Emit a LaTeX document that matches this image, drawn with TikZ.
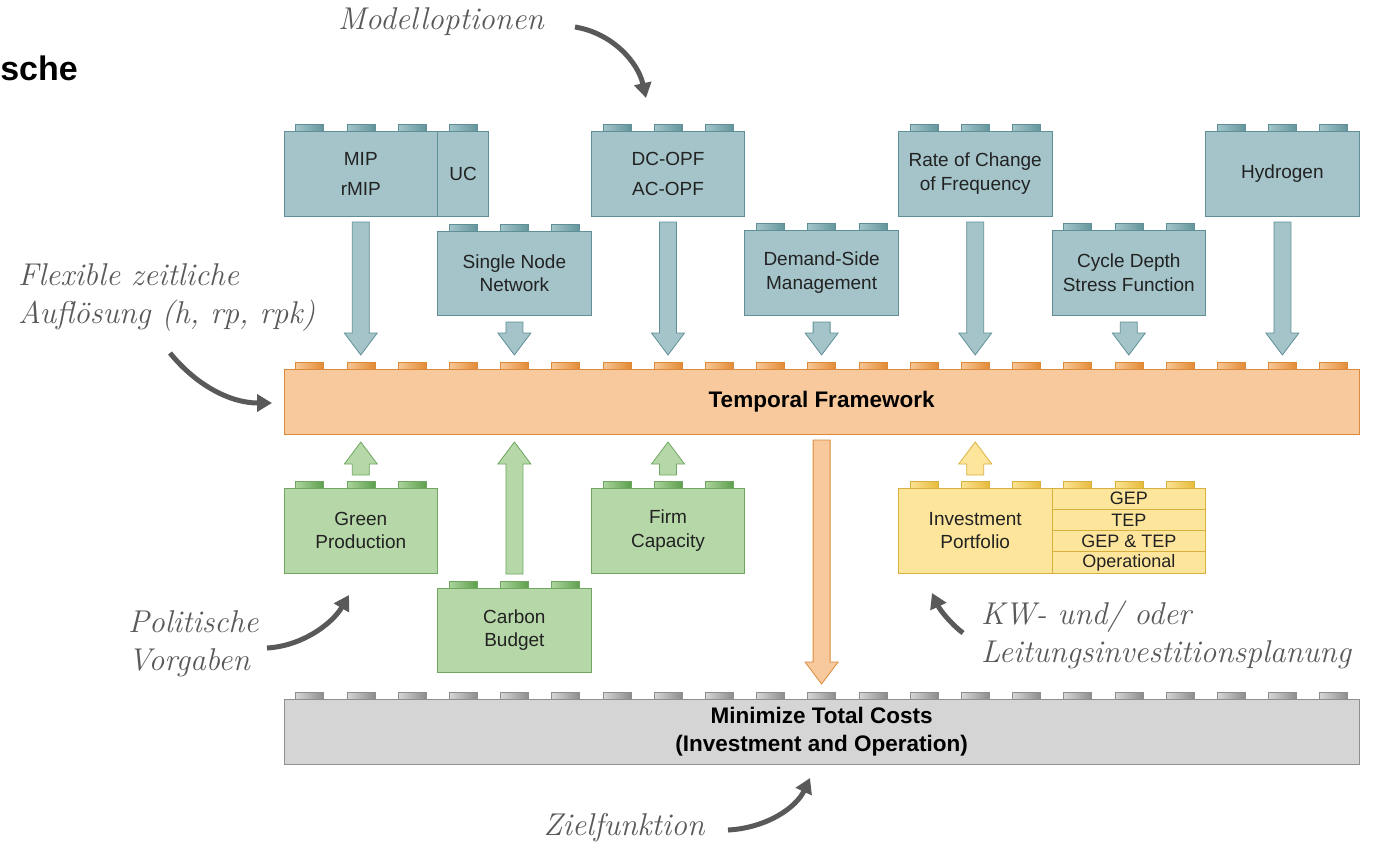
\documentclass[tikz,border=0pt]{standalone}
\usepackage{fontspec}
\setsansfont{Liberation Sans}
\usetikzlibrary{calc,arrows.meta}

% palette
\definecolor{tealF}{HTML}{A4C4C9}
\definecolor{tealD}{HTML}{5F9097}
\definecolor{tealSL}{HTML}{A3C5CA}
\definecolor{tealSR}{HTML}{64959C}
\definecolor{orangeF}{HTML}{F8C99C}
\definecolor{orangeD}{HTML}{DB8A3C}
\definecolor{orangeSL}{HTML}{F7C796}
\definecolor{orangeSR}{HTML}{E28B36}
\definecolor{greenF}{HTML}{B6D8A8}
\definecolor{greenD}{HTML}{6FA660}
\definecolor{greenSL}{HTML}{ACD49D}
\definecolor{greenSR}{HTML}{5E9F4D}
\definecolor{yellowF}{HTML}{FDE59C}
\definecolor{yellowD}{HTML}{D8B03E}
\definecolor{yellowSL}{HTML}{FCE394}
\definecolor{yellowSR}{HTML}{E6BB3C}
\definecolor{grayF}{HTML}{D5D5D5}
\definecolor{grayD}{HTML}{8E8E8E}
\definecolor{graySL}{HTML}{D6D6D6}
\definecolor{graySR}{HTML}{8C8C8C}
\definecolor{noteC}{HTML}{595959}
\definecolor{txt}{HTML}{222222}

\tikzset{
  blk/.style={draw, line width=1pt, inner sep=0pt, outer sep=0pt, anchor=north west,
    align=center, text=txt, font=\sffamily\fontsize{19}{23.5}\selectfont},
  tealblk/.style={blk, fill=tealF, draw=tealD},
  greenblk/.style={blk, fill=greenF, draw=greenD},
  yellowblk/.style={blk, fill=yellowF, draw=yellowD},
  bar/.style={blk, font=\sffamily\bfseries\fontsize{22.5}{28}\selectfont, text=black},
  studT/.style={draw=tealD, line width=0.6pt, left color=tealSL, right color=tealSR},
  studO/.style={draw=orangeD, line width=0.6pt, left color=orangeSL, right color=orangeSR},
  studG/.style={draw=greenD, line width=0.6pt, left color=greenSL, right color=greenSR},
  studY/.style={draw=yellowD, line width=0.6pt, left color=yellowSL, right color=yellowSR},
  studK/.style={draw=grayD, line width=0.6pt, left color=graySL, right color=graySR},
  arrT/.style={fill=tealF, draw=tealD, line width=0.8pt, line join=miter},
  arrO/.style={fill=orangeF, draw=orangeD, line width=0.8pt, line join=miter},
  arrG/.style={fill=greenF, draw=greenD, line width=0.8pt, line join=miter},
  arrY/.style={fill=yellowF, draw=yellowD, line width=0.8pt, line join=miter},
  note/.style={text=noteC, font=\rmfamily\itshape\fontsize{31.5}{38}\selectfont, align=left, inner sep=0pt},
  notearrow/.style={draw=noteC, line width=5pt, -{Triangle[length=15pt,width=17pt]}},
}

% row of studs on top of a block, one per 51.2pt cell
\newcommand\studs[3]{%
  \foreach \k in {1,...,#2}{%
    \path[#3] ($(#1.north west)+({(\k-0.5)*51.2-14},0)$) rectangle ++(28,-7);
  }}

% vertical block arrow from a start point to a tip
\newcommand\barrow[3]{%
  \path[#1] let \p1=#2, \p2=#3, \n1={ifthenelse(\y2>\y1,1,-1)} in
    ({\x1-8.5pt},{\y1}) -- ({\x1-8.5pt},{\y2-(\n1)*22pt}) -- ({\x1-16.5pt},{\y2-(\n1)*22pt})
    -- ({\x1},{\y2}) -- ({\x1+16.5pt},{\y2-(\n1)*22pt}) -- ({\x1+8.5pt},{\y2-(\n1)*22pt})
    -- ({\x1+8.5pt},{\y1}) -- cycle;}

\begin{document}
\begin{tikzpicture}[x=1pt,y=-1pt]
\useasboundingbox (0,0) rectangle (1383,844);

% title fragment
\node[anchor=east, inner sep=0pt, font=\sffamily\bfseries\fontsize{34}{40}\selectfont] (title) at (78,68) {sche};

% option blocks
\node[tealblk, minimum width=153.6, minimum height=85] (mip) at (284,131) {MIP\\[6.5pt]rMIP};
\node[tealblk, minimum width=51.2, minimum height=85] (uc) at (mip.north east) {UC};
\node[tealblk, minimum width=153.6, minimum height=84] (snn) at (437.6,231) {Single Node\\Network};
\node[tealblk, minimum width=153.6, minimum height=85] (opf) at (591.2,131) {DC-OPF\\[6.5pt]AC-OPF};
\node[tealblk, minimum width=153.6, minimum height=85] (dsm) at (744.8,230) {Demand-Side\\Management};
\node[tealblk, minimum width=153.6, minimum height=85] (rocof) at (898.4,131) {Rate of Change\\of Frequency};
\node[tealblk, minimum width=153.6, minimum height=85] (cdsf) at (1052,230) {Cycle Depth\\Stress Function};
\node[tealblk, minimum width=153.6, minimum height=85] (hyd) at (1205.6,131) {Hydrogen};
\studs{mip}{3}{studT} \studs{uc}{1}{studT} \studs{snn}{3}{studT} \studs{opf}{3}{studT}
\studs{dsm}{3}{studT} \studs{rocof}{3}{studT} \studs{cdsf}{3}{studT} \studs{hyd}{3}{studT}

% temporal framework
\node[bar, fill=orangeF, draw=orangeD, minimum width=1075.2, minimum height=65] (tf) at (284,369) {Temporal Framework};
\studs{tf}{21}{studO}

% policy blocks
\node[greenblk, minimum width=153.6, minimum height=85] (green) at (284,488) {Green\\Production};
\node[greenblk, minimum width=153.6, minimum height=84] (carbon) at (437.6,588) {Carbon\\Budget};
\node[greenblk, minimum width=153.6, minimum height=85] (firm) at (591.2,488) {Firm\\Capacity};
\studs{green}{3}{studG} \studs{carbon}{3}{studG} \studs{firm}{3}{studG}

% investment portfolio
\node[yellowblk, minimum width=153.6, minimum height=85] (inv) at (898.4,488) {Investment\\Portfolio};
\begin{scope}[every node/.append style={yellowblk, minimum width=153.6, minimum height=21.25,
    font=\sffamily\fontsize{18}{20}\selectfont}]
  \node (gep) at (1052,488) {GEP};
  \node (tep) at (gep.south west) {TEP};
  \node (both) at (tep.south west) {GEP \& TEP};
  \node (oper) at (both.south west) {Operational};
\end{scope}
\studs{inv}{3}{studY} \studs{gep}{3}{studY}

% objective
\node[bar, fill=grayF, draw=grayD, minimum width=1075.2, minimum height=65] (cost) at (284,699) {Minimize Total Costs\\(Investment and Operation)};
\studs{cost}{21}{studK}

% arrows into the temporal framework
\barrow{arrT}{($(mip.south)+(0,6)$)}{($(mip.south |- tf.north)+(0,-14)$)}
\barrow{arrT}{($(snn.south)+(0,7)$)}{($(snn.south |- tf.north)+(0,-14)$)}
\barrow{arrT}{($(opf.south)+(0,6)$)}{($(opf.south |- tf.north)+(0,-14)$)}
\barrow{arrT}{($(dsm.south)+(0,7)$)}{($(dsm.south |- tf.north)+(0,-14)$)}
\barrow{arrT}{($(rocof.south)+(0,6)$)}{($(rocof.south |- tf.north)+(0,-14)$)}
\barrow{arrT}{($(cdsf.south)+(0,7)$)}{($(cdsf.south |- tf.north)+(0,-14)$)}
\barrow{arrT}{($(hyd.south)+(0,6)$)}{($(hyd.south |- tf.north)+(0,-14)$)}
\barrow{arrG}{($(green.north)+(0,-13)$)}{($(green.north |- tf.south)+(0,8)$)}
\barrow{arrG}{($(carbon.north)+(0,-14)$)}{($(carbon.north |- tf.south)+(0,8)$)}
\barrow{arrG}{($(firm.north)+(0,-13)$)}{($(firm.north |- tf.south)+(0,8)$)}
\barrow{arrY}{($(inv.north)+(0,-13)$)}{($(inv.north |- tf.south)+(0,8)$)}
\barrow{arrO}{($(tf.south)+(0,6)$)}{($(cost.north)+(0,-15)$)}

% annotations
\node[note, anchor=center] (nmod) at (441,22) {Modelloptionen};
\node[note, anchor=west] (nflex) at (18,298) {Flexible zeitliche\\Auflösung (h, rp, rpk)};
\node[note, anchor=west] (npol) at (128,644) {Politische\\Vorgaben};
\node[note, anchor=west] (nkw) at (981,635) {KW- und/ oder\\Leitungsinvestitionsplanung};
\node[note, anchor=center] (nziel) at (624,828) {Zielfunktion};

\coordinate (amod0) at (575,27);   \coordinate (amod1) at (646,98);
\coordinate (aflex0) at (170,353); \coordinate (aflex1) at (272,403);
\coordinate (apol0) at (267,648);  \coordinate (apol1) at (349,595);
\coordinate (akw0) at (963,633);   \coordinate (akw1) at (932,593);
\coordinate (aziel0) at (728,830); \coordinate (aziel1) at (810,778);

\draw[notearrow] (amod0) .. controls (612,33) and (638,62) .. (amod1);
\draw[notearrow] (aflex0) .. controls (196,385) and (230,403) .. (aflex1);
\draw[notearrow] (apol0) .. controls (302,646) and (332,624) .. (apol1);
\draw[notearrow] (akw0) .. controls (951,624) and (940,610) .. (akw1);
\draw[notearrow] (aziel0) .. controls (766,828) and (796,808) .. (aziel1);
\end{tikzpicture}
\end{document}
